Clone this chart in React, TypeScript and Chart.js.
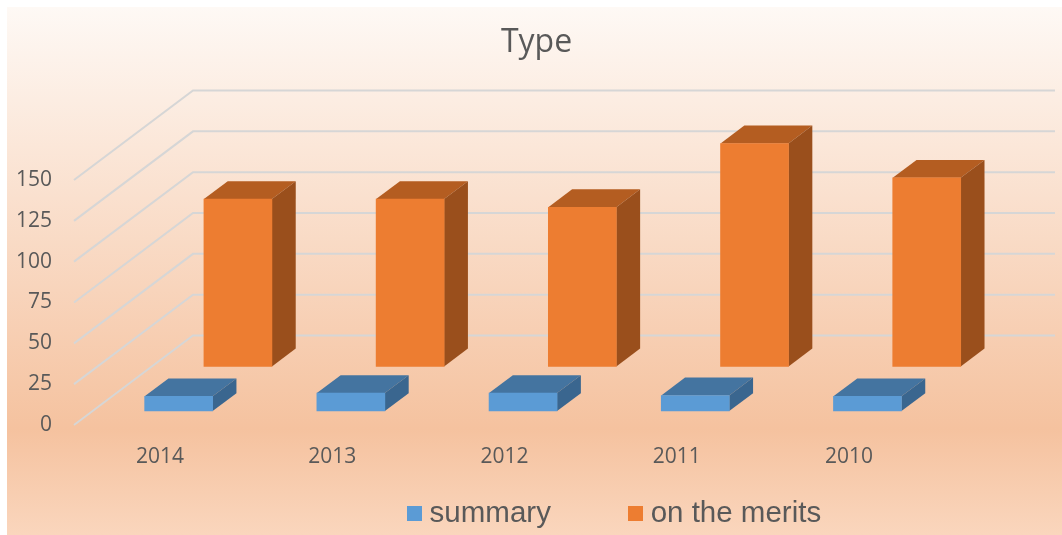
import React, { useEffect, useRef } from "react";
import { Chart, registerables } from "chart.js";

Chart.register(...registerables);

const categories = ["2014", "2013", "2012", "2011", "2010"];
const summary = [9, 11, 11, 9.5, 9];
const onTheMerits = [102.5, 102.5, 97.5, 136.5, 115.5];

const WALL_DX = 119;
const WALL_DY = 89.5;
const DEPTH_START = [0.156, 0.654];
const BOX_DEPTH = 0.2;
const TOP_COLORS = ["#4474a0", "#b45d21"];
const SIDE_COLORS = ["#3a668f", "#9a4f1c"];
const FRONT_COLORS = ["#5b9bd5", "#ed7d31"];
const GRID = "#d6d6d6";
const TEXT = "#595959";

function swatch(color: string) {
  const c = document.createElement("canvas");
  c.width = 15;
  c.height = 15;
  const g = c.getContext("2d")!;
  g.fillStyle = color;
  g.fillRect(0, 0, 15, 15);
  return c;
}

const scene = {
  id: "scene3d",
  afterLayout(chart: any) {
    const lg = chart.legend;
    const padding = lg.options.labels.padding;
    lg.left += 150;
    lg.right += 150;
    lg.top = 499 - padding;
    lg.bottom = 535;
    const t = chart.titleBlock;
    t.left += 69;
    t.right += 69;
  },
  beforeDraw(chart: any) {
    const { ctx, width, height } = chart;
    const g = ctx.createLinearGradient(0, 7, 0, height);
    g.addColorStop(0, "#fef9f5");
    g.addColorStop(0.8, "#f5c29f");
    g.addColorStop(1, "#fad6bd");
    ctx.save();
    ctx.fillStyle = "#ffffff";
    ctx.fillRect(0, 0, width, height);
    ctx.fillStyle = g;
    ctx.fillRect(7, 7, width - 7, height - 7);
    ctx.restore();
  },
  beforeDatasetsDraw(chart: any) {
    const { ctx, chartArea, scales } = chart;
    ctx.save();
    ctx.strokeStyle = GRID;
    ctx.lineWidth = 2;
    scales.y.ticks.forEach((tick: any) => {
      const y = scales.y.getPixelForValue(tick.value);
      ctx.beginPath();
      ctx.moveTo(chartArea.left, y);
      ctx.lineTo(chartArea.left + WALL_DX, y - WALL_DY);
      ctx.lineTo(chartArea.right + WALL_DX + 1, y - WALL_DY);
      ctx.stroke();
    });
    ctx.restore();
  },
  beforeDatasetDraw(chart: any, args: any) {
    const { ctx } = chart;
    const i = args.index;
    const meta = args.meta;
    const dx = WALL_DX * DEPTH_START[i];
    const dy = -WALL_DY * DEPTH_START[i];
    const bx = WALL_DX * BOX_DEPTH;
    const by = -WALL_DY * BOX_DEPTH;
    ctx.save();
    ctx.translate(dx, dy);
    meta.data.forEach((bar: any) => {
      const { x, y, base, width } = bar.getProps(["x", "y", "base", "width"], true);
      const l = x - width / 2;
      const r = x + width / 2;
      ctx.fillStyle = TOP_COLORS[i];
      ctx.beginPath();
      ctx.moveTo(l, y);
      ctx.lineTo(l + bx, y + by);
      ctx.lineTo(r + bx, y + by);
      ctx.lineTo(r, y);
      ctx.closePath();
      ctx.fill();
      ctx.fillStyle = SIDE_COLORS[i];
      ctx.beginPath();
      ctx.moveTo(r, y);
      ctx.lineTo(r + bx, y + by);
      ctx.lineTo(r + bx, base + by);
      ctx.lineTo(r, base);
      ctx.closePath();
      ctx.fill();
    });
  },
  afterDatasetDraw(chart: any) {
    chart.ctx.restore();
  },
};

export default function App() {
  const ref = useRef<HTMLCanvasElement>(null);
  useEffect(() => {
    const swatches = FRONT_COLORS.map(swatch);
    const chart = new Chart(ref.current!, {
      type: "bar",
      data: {
        labels: categories,
        datasets: [
          { label: "summary", data: summary, backgroundColor: FRONT_COLORS[0] },
          { label: "on the merits", data: onTheMerits, backgroundColor: FRONT_COLORS[1] },
        ],
      },
      plugins: [scene],
      options: {
        responsive: false,
        animation: false,
        layout: { padding: { left: 0, right: 127, top: 0, bottom: 0 } },
        datasets: { bar: { grouped: false, barThickness: 68, clip: false } },
        scales: {
          x: {
            grid: { display: false, drawTicks: false },
            border: { display: false },
            ticks: { color: TEXT, font: { family: "Open Sans", size: 21 }, padding: 19, maxRotation: 0 },
            afterFit: (s: any) => { s.height = 70; },
          },
          y: {
            min: 0,
            max: 150,
            grid: { display: false, drawTicks: false },
            border: { display: false },
            ticks: { stepSize: 25, color: TEXT, font: { family: "Open Sans", size: 21 }, padding: 22 },
            afterFit: (s: any) => { s.width = 74; },
          },
        },
        plugins: {
          title: {
            display: true,
            text: "Type",
            color: TEXT,
            font: { family: "Open Sans", size: 32, weight: "normal" },
            padding: { top: 24, bottom: 117.6 },
          },
          legend: {
            position: "bottom",
            maxHeight: 40,
            labels: {
              color: TEXT,
              font: { family: "Liberation Sans", size: 29.5 },
              usePointStyle: true,
              pointStyleWidth: 1,
              boxHeight: 15,
              padding: 84,
              generateLabels: (c: any) =>
                Chart.defaults.plugins.legend.labels
                  .generateLabels(c)
                  .map((it: any, i: number) => ({ ...it, pointStyle: swatches[i] })),
            },
          },
          tooltip: { enabled: false },
        },
      },
    } as any);
    return () => chart.destroy();
  }, []);
  return (
    <div style={{ position: "absolute", left: 0, top: 0, width: 1062, height: 535 }}>
      <canvas ref={ref} width={1062} height={535} style={{ display: "block" }} />
    </div>
  );
}
